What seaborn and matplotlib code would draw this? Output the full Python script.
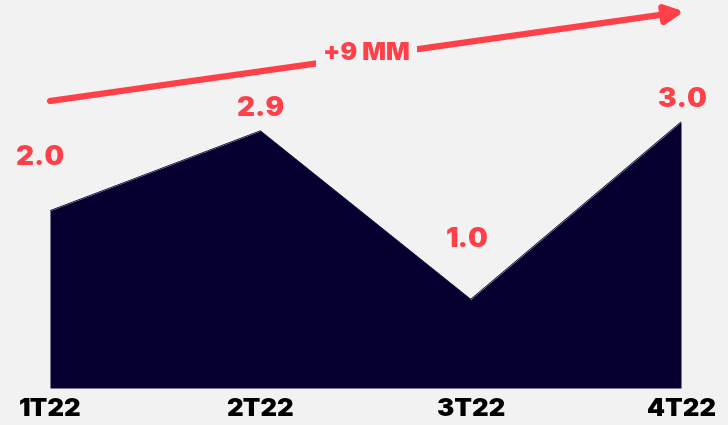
import matplotlib
matplotlib.use("Agg")
import matplotlib.pyplot as plt
import seaborn as sns
import pandas as pd

quarters = ["1T22", "2T22", "3T22", "4T22"]
values = [2.0, 2.9, 1.0, 3.0]
value_labels = ["2.0", "2.9", "1.0", "3.0"]
trend_label = "+9 MM"

BG = "#f2f2f2"
NAVY = "#050030"
RED = "#ff4048"

sns.set_theme(style="white")
plt.rcParams["font.family"] = ["Inter", "DejaVu Sans"]

df = pd.DataFrame({"pos": range(len(quarters)), "value": values})

fig = plt.figure(figsize=(7.28, 4.25), dpi=100, facecolor=BG)
ax = fig.add_axes([50 / 728, 37 / 425, 631 / 728, 388 / 425])
ax.set_facecolor(BG)

sns.lineplot(data=df, x="pos", y="value", ax=ax, color=NAVY, linewidth=0.6)
ax.fill_between(df["pos"], 0, df["value"], color=NAVY, linewidth=0)

ax.set_xlim(0, 3)
ax.set_ylim(0, 4.375)
for s in ax.spines.values():
    s.set_visible(False)
ax.set_yticks([])
ax.set_xticks(df["pos"])
ax.set_xticklabels(quarters, fontsize=18.5, fontweight="black", color="black")
ax.tick_params(axis="x", length=0, pad=7)
ax.set_xlabel("")
ax.set_ylabel("")

# value labels, nudged individually so they sit clear of the area
offsets = [(-10, 53), (0, 22), (-3, 59), (1, 22)]
for x, v, lab, (dx, dy) in zip(df["pos"], values, value_labels, offsets):
    ax.annotate(lab, (x, v), xytext=(dx, dy), textcoords="offset pixels",
                ha="center", va="center", fontsize=20, fontweight="black",
                color=RED)

# trend arrow across the top
ax.annotate("", xy=(3.015, 4.245), xytext=(0.0, 3.236),
            arrowprops=dict(arrowstyle="-|>,head_length=0.9,head_width=0.45",
                            color=RED, lw=4.5, shrinkA=0, shrinkB=0),
            annotation_clip=False)
ax.text(1.505, 3.77, trend_label, ha="center", va="center", fontsize=18,
        fontweight="black", color=RED, rotation=0,
        bbox=dict(boxstyle="square,pad=0.3", facecolor=BG, edgecolor="none"))

fig.savefig("out.png", dpi=100, facecolor=BG)
